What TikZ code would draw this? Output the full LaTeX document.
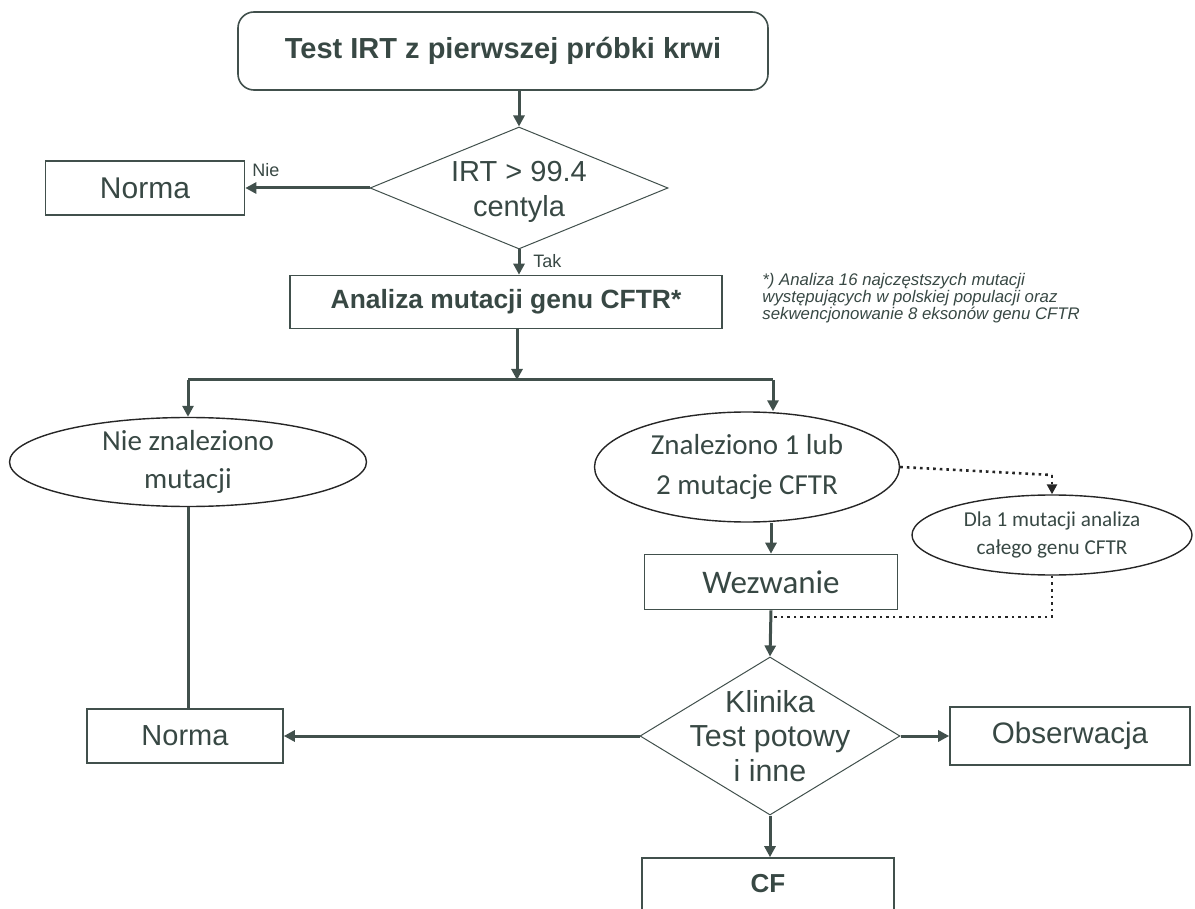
\documentclass[tikz,border=0pt]{standalone}
\usepackage{fontspec}
\setmainfont{Liberation Sans}
\newfontfamily\carlito{Carlito}
\usetikzlibrary{shapes.geometric,arrows.meta}
\definecolor{ink}{HTML}{384844}
\definecolor{edge}{HTML}{41504C}
\newcommand{\fsz}[1]{\fontsize{#1}{1.2\dimexpr#1pt\relax}\selectfont}

\begin{document}
\begin{tikzpicture}[x=0.5pt,y=-0.5pt,
  box/.style={draw=edge, line width=0.8pt, rectangle, inner sep=0pt, text=ink},
  oval/.style={draw=black!85, line width=0.7pt, ellipse, inner sep=0pt},
  dec/.style={draw=edge, line width=0.5pt, diamond, inner sep=0pt},
  lab/.style={text=ink, align=center, inner sep=0pt},
  flow/.style={draw=edge, line width=1.5pt, -{Triangle[length=5.5pt,width=5.5pt]}},
  plain/.style={draw=edge, line width=1.5pt},
  dots/.style={draw=black!85, line width=1.3pt, dotted},
  note/.style={text=ink, inner sep=0pt, font=\fsz{9}}]

\useasboundingbox (0,0) rectangle (1195,909);
\clip (0,0) rectangle (1195,909);

% top of the chart
\node[box, rounded corners=8pt, minimum width=265pt, minimum height=39pt,
      font=\bfseries\fsz{14.5}] (start) at (503,51) {Test IRT z pierwszej próbki krwi};
\node[dec, minimum width=149pt, minimum height=61pt] (irt) at (519,188) {};
\node[lab, font=\fsz{14.5}, align=center] (irtt) at (519,192) {IRT > 99.4\\[0pt]centyla};
\node[box, minimum width=99.5pt, minimum height=27pt, font=\fsz{15}] (norma1) at (145,188) {Norma};
\node[box, minimum width=216pt, minimum height=26.5pt,
      font=\bfseries\fsz{13.2}] (cftr) at (506,302) {Analiza mutacji genu CFTR*};

\node[note, anchor=west] (nie) at (252,170) {Nie};
\node[note, anchor=west] (tak) at (533,261) {Tak};

\node[note, anchor=north west, align=left, font=\itshape\fsz{8.4}] (foot) at (762,273)
  {*) Analiza 16 najczęstszych mutacji\\[-1.6pt]występujących w polskiej populacji oraz\\[-1.6pt]sekwencjonowanie 8 eksonów genu CFTR};

% genetic results
\coordinate (split) at (517,380);
\coordinate (splitL) at (188,380);
\coordinate (splitR) at (773,380);
\node[oval, minimum width=178.5pt, minimum height=44.5pt,
      label={[lab, font=\carlito\fsz{14.5}]center:Nie znaleziono\\[2pt]mutacji}] (none) at (188,462) {};
\node[oval, minimum width=152.5pt, minimum height=55pt,
      label={[lab, font=\carlito\fsz{14.5}]center:Znaleziono 1 lub\\[3pt]2 mutacje CFTR}] (found) at (747,467) {};
\node[oval, minimum width=140pt, minimum height=40pt,
      label={[lab, font=\carlito\fsz{10.6}]center:Dla 1 mutacji analiza\\[1pt]całego genu CFTR}] (whole) at (1052,535) {};
\node[box, minimum width=126.5pt, minimum height=27.5pt, font=\carlito\fsz{16.5}] (wez) at (771,582) {Wezwanie};

% clinical assessment
\node[dec, minimum width=130pt, minimum height=79pt] (clin) at (770,736) {};
\node[lab, font=\fsz{15.2}] (clint) at (770,736) {Klinika\\[-1pt]Test potowy\\[-1pt]i inne};
\node[box, minimum width=98pt, minimum height=27pt, font=\fsz{14.5}] (norma2) at (185,736) {Norma};
\node[box, minimum width=120pt, minimum height=29pt, font=\fsz{14.8}] (obs) at (1070,736) {Obserwacja};
% the result box runs past the lower edge of the page
\node[box, minimum width=126pt, minimum height=40pt,
      label={[lab, font=\bfseries\fsz{13}, yshift=7pt]center:CF}] (cf) at (768,898) {};

\coordinate (dotA) at (1052,475);
\coordinate (dotB) at (1052,617);
\coordinate (dotC) at (773,617);

% connectors
\draw[flow] (start.south -| irt.north) -- (irt.north);
\draw[flow] (irt.west) -- (norma1.east);
\draw[flow] (irt.south) -- (cftr.north -| irt.south);
\draw[flow] (cftr.south -| split) -- (split);
\draw[plain] (splitL) -- (splitR);
\draw[flow] (splitL) -- (none.north);
\draw[flow] (splitR) -- (splitR |- found.north);
\draw[flow] (found.south -| wez.north) -- (wez.north);
\draw[flow] (wez.south) -- (clin.north);
\draw[plain] (none.south) -- (norma2.north -| none.south);
\draw[flow] (clin.west) -- (norma2.east);
\draw[flow] (clin.east) -- (obs.west);
\draw[flow] (clin.south) -- (clin.south |- cf.north);
\draw[dots] (found.east) -- (dotA);
\draw[dots, -{Triangle[length=5pt,width=5pt]}] (dotA) -- (whole.north);
\draw[dots] (whole.south) -- (dotB) -- (dotC);
\end{tikzpicture}
\end{document}
